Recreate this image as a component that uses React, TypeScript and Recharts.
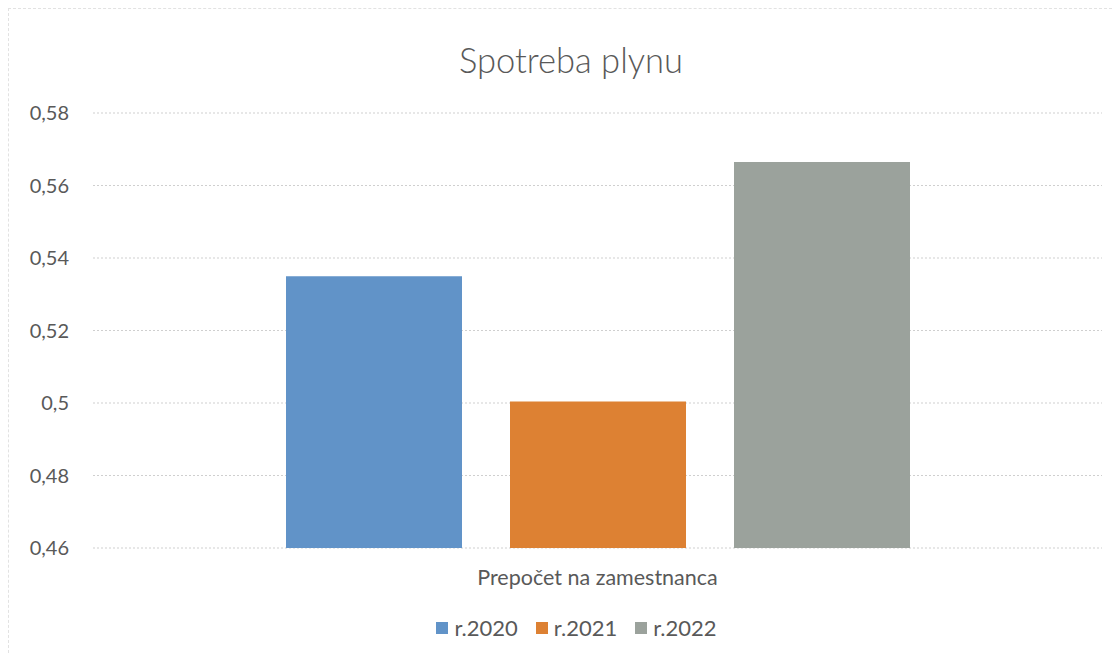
import React from 'react';
import { BarChart, Bar, XAxis, YAxis, CartesianGrid, Legend } from 'recharts';

const categories = ['Prepočet na zamestnanca'];
const seriesNames = ['r.2020', 'r.2021', 'r.2022'];
const values2020 = [0.535];
const values2021 = [0.5004];
const values2022 = [0.5665];
const yTicks = [0.46, 0.48, 0.5, 0.52, 0.54, 0.56, 0.58];
const colors = ['#6193c8', '#dd8133', '#9ba29c'];

const seriesValues = [values2020, values2021, values2022];
const data = categories.map((c, i) => {
  const row: Record<string, string | number> = { name: c };
  seriesNames.forEach((s, j) => {
    row[s] = seriesValues[j][i];
  });
  return row;
});

const FONT = 'Lato, "Open Sans", sans-serif';
const TEXT = '#595959';

const fmt = (v: number) => String(parseFloat(v.toFixed(2))).replace('.', ',');

const renderLegend = (props: any) => {
  const payload = props.payload || [];
  return (
    <div
      style={{
        display: 'flex',
        justifyContent: 'center',
        alignItems: 'center',
        height: 26,
        paddingLeft: 42,
        fontFamily: FONT,
      }}
    >
      {payload.map((p: any, i: number) => (
        <div
          key={p.value}
          style={{
            display: 'flex',
            alignItems: 'center',
            marginRight: i < payload.length - 1 ? 18 : 0,
          }}
        >
          <span style={{ display: 'inline-block', width: 12, height: 12, background: p.color, marginRight: 6 }} />
          <span style={{ color: TEXT, fontSize: 22, lineHeight: '26px' }}>{p.value}</span>
        </div>
      ))}
    </div>
  );
};

export default function App() {
  return (
    <div
      style={{
        position: 'relative',
        width: 1104,
        height: 645,
        fontFamily: FONT,
        borderLeft: '1px dashed #e2e2e2',
        borderTop: '1px dashed #e2e2e2',
        boxSizing: 'border-box',
      }}
    >
      <div
        style={{
          position: 'absolute',
          top: 30,
          left: 0,
          width: 1124,
          textAlign: 'center',
          fontSize: 34.5,
          fontWeight: 300,
          color: TEXT,
          fontFamily: FONT,
        }}
      >
        Spotreba plynu
      </div>
      <BarChart
        width={1104}
        height={645}
        data={data}
        margin={{ top: 104, right: 11, left: 0, bottom: 13 }}
        barSize={176}
        barGap={48}
      >
        <CartesianGrid vertical={false} stroke="#cfcfcf" strokeDasharray="2 2" />
        <XAxis
          dataKey="name"
          axisLine={false}
          tickLine={false}
          tickSize={0}
          tickMargin={22}
          height={67}
          tick={{ fill: TEXT, fontSize: 21.5, fontFamily: FONT }}
        />
        <YAxis
          domain={[0.46, 0.58]}
          ticks={yTicks}
          tickFormatter={fmt}
          axisLine={false}
          tickLine={false}
          tickSize={0}
          tickMargin={24}
          width={84}
          interval={0}
          tick={{ fill: TEXT, fontSize: 20, fontFamily: FONT }}
        />
        <Legend verticalAlign="bottom" align="center" content={renderLegend} />
        {seriesNames.map((s, j) => (
          <Bar key={s} dataKey={s} fill={colors[j]} isAnimationActive={false} />
        ))}
      </BarChart>
    </div>
  );
}
